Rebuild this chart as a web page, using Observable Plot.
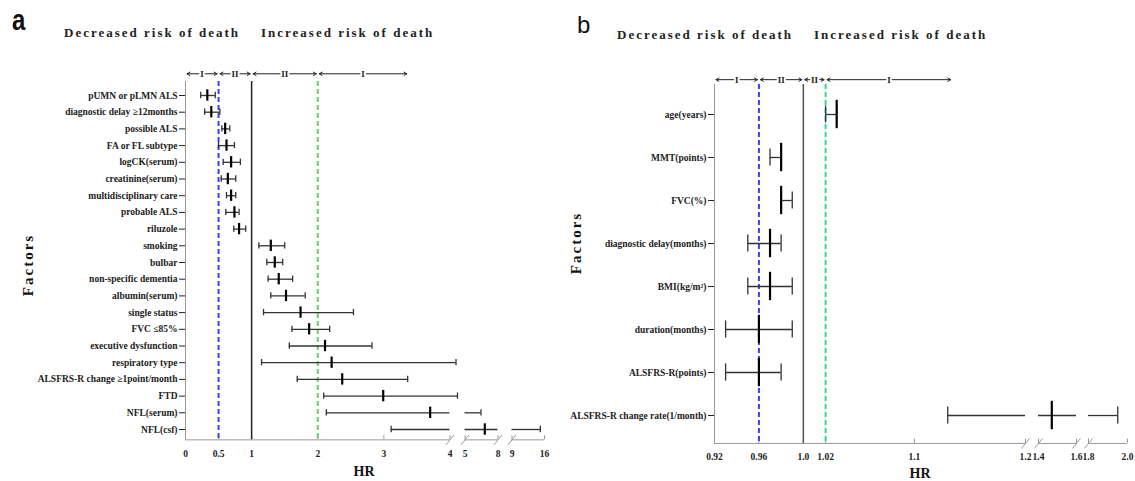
<!DOCTYPE html>
<html><head><meta charset="utf-8">
<script src="https://cdn.jsdelivr.net/npm/d3@7"></script>
<script src="https://cdn.jsdelivr.net/npm/@observablehq/plot@0.6"></script>
<style>
body{margin:0;background:#fff;width:1135px;height:481px;position:relative;overflow:hidden;font-family:"Liberation Serif",serif;color:#111;}
.abs{position:absolute;white-space:nowrap;line-height:1;}
.panel{position:absolute;top:0;}
.hdr{font-weight:bold;font-size:13px;letter-spacing:2px;color:#222;}
.hr{font-weight:bold;font-size:14px;transform:translate(-50%,-50%);}
.fac{font-weight:bold;font-size:15px;letter-spacing:2px;transform:translate(-50%,-50%) rotate(-90deg);}
</style></head><body>
<div class="abs" style="left:12px;top:5px;font-family:'Liberation Sans';font-weight:bold;font-size:30px;transform:scaleX(0.8);transform-origin:left top">a</div>
<div class="abs hdr" style="left:64px;top:26px">Decreased risk of death</div>
<div class="abs hdr" style="left:261px;top:26px">Increased risk of death</div>
<div class="abs" style="left:577px;top:13px;font-family:'Liberation Sans';font-size:24px">b</div>
<div class="abs hdr" style="left:617px;top:28px">Decreased risk of death</div>
<div class="abs hdr" style="left:814px;top:28px">Increased risk of death</div>
<div class="abs fac" style="left:28px;top:265px">Factors</div>
<div class="abs fac" style="left:576px;top:243px">Factors</div>
<div class="abs hr" style="left:364px;top:472px">HR</div>
<div class="abs hr" style="left:920px;top:474px">HR</div>
<div id="pa" class="panel" style="left:0px"></div>
<div id="pb" class="panel" style="left:565px"></div>
<script>
// ---------- Panel a data ----------
const factorsA = ["pUMN or pLMN ALS","diagnostic delay \u226512months","possible ALS","FA or FL subtype","logCK(serum)","creatinine(serum)","multidisciplinary care","probable ALS","riluzole","smoking","bulbar","non-specific dementia","albumin(serum)","single status","FVC \u226485%","executive dysfunction","respiratory type","ALSFRS-R change \u22651point/month","FTD","NFL(serum)","NFL(csf)"];
const hrA    = [0.33,0.39,0.60,0.62,0.69,0.64,0.69,0.74,0.81,1.29,1.35,1.41,1.52,1.74,1.87,2.11,2.21,2.37,2.99,3.70,6.8];
const lowerA = [0.23,0.29,0.55,0.50,0.57,0.54,0.62,0.61,0.73,1.11,1.23,1.25,1.29,1.18,1.61,1.57,1.15,1.69,2.09,2.13,3.11];
const upperA = [0.45,0.52,0.67,0.74,0.83,0.76,0.76,0.81,0.91,1.50,1.47,1.62,1.81,2.54,2.18,2.82,4.4,3.36,4.5,6.45,15.1];
const ticksA = [0,0.5,1,2,3,4,5,8,9,16];
const tickLabelsA = ["0","0.5","1","2","3","4","5","8","9","16"];
const piecesA = [[0,4],[5,8],[9,16]];
const regionStartA = [0,0.5,1,2];
const regionEndA   = [0.5,1,2,3.37];
const regionLabelA = ["I","II","II","I"];
const refLinesA = {low:0.5, one:1, high:2};

// ---------- Panel b data ----------
const factorsB = ["age(years)","MMT(points)","FVC(%)","diagnostic delay(months)","BMI(kg/m\u00b2)","duration(months)","ALSFRS-R(points)","ALSFRS-R change rate(1/month)"];
const hrB    = [1.03,0.98,0.98,0.97,0.97,0.96,0.96,1.47];
const lowerB = [1.02,0.97,0.98,0.95,0.95,0.93,0.93,1.13];
const upperB = [1.03,0.98,0.99,0.98,0.99,0.99,0.98,1.95];
const ticksB = [0.92,0.96,1.0,1.02,1.1,1.2,1.4,1.6,1.8,2.0];
const tickLabelsB = ["0.92","0.96","1.0","1.02","1.1","1.2","1.4","1.6","1.8","2.0"];
const piecesB = [[0.92,1.2],[1.4,1.6],[1.8,2.0]];
const regionStartB = [0.92,0.96,1.0,1.02];
const regionEndB   = [0.96,1.0,1.02,1.134];
const regionLabelB = ["I","II","II","I"];
const refLinesB = {low:0.96, one:1.0, high:1.02};

const slashSymbol = {draw(ctx, size){ const r = Math.sqrt(size/Math.PI); ctx.moveTo(-r*0.8, r); ctx.lineTo(r*0.8, -r); }};

function panel(o){
  const n = o.factors.length;
  const rows = o.factors.map((f,i)=>({i, f, hr:o.hr[i], lo:o.lower[i], hi:o.upper[i]}));
  const gaps = o.pieces.slice(1).map((p,k)=>[o.pieces[k][1], p[0]]);
  const segs = [];
  rows.forEach(r=>{
    let s = r.lo;
    for (const [g0,g1] of gaps){ if (r.lo < g0 && r.hi > g1){ segs.push({i:r.i,x1:s,x2:g0}); s = g1; } }
    segs.push({i:r.i,x1:s,x2:r.hi});
  });
  const caps = rows.flatMap(r=>[{i:r.i,x:r.lo},{i:r.i,x:r.hi}]);
  const slashes = [];
  o.pieces.forEach((p,k)=>{ if(k>0) slashes.push(p[0]); if(k<o.pieces.length-1) slashes.push(p[1]); });
  const regions = o.regStart.map((s,k)=>({s, e:o.regEnd[k], m:(s+o.regEnd[k])/2, label:o.regLabel[k]}));
  const top = o.yTop, bot = o.yBot, arrY = o.arrY;
  const xMin = o.pieces[0][0];
  return Plot.plot({
    width:o.width, height:481,
    marginLeft:o.ml, marginRight:o.mr, marginTop:o.mt, marginBottom:o.mb,
    style:{fontFamily:"Liberation Serif", fontWeight:"bold", fontSize:"9.5px", background:"transparent", overflow:"visible", color:"#222"},
    x:{type:"linear", domain:o.xDomain, range:o.xRange, ticks:o.ticks, tickFormat:d=>o.tickLabels[o.ticks.indexOf(d)], tickSize:0, tickPadding:10, label:null},
    y:{type:"linear", domain:[0,n-1], range:o.yRange, ticks:d3.range(n), tickFormat:i=>o.factors[i], tickSize:6, tickPadding:2, label:null},
    marks:[
      Plot.ruleX([xMin], {y1:top, y2:bot, stroke:"#999", strokeWidth:1}),
      Plot.ruleY(o.pieces, {y:bot, x1:d=>d[0], x2:d=>d[1], stroke:"#999", strokeWidth:1}),
      Plot.ruleX(o.ticks, {y1:bot, y2:bot - o.tickLen, stroke:"#999", strokeWidth:1}),
      Plot.dot(slashes, {x:d=>d, y:bot, symbol:slashSymbol, r:5, stroke:"#999", fill:"none", strokeWidth:1}),
      Plot.ruleX([o.ref.low], {y1:top, y2:bot, stroke:"#3340ff", strokeWidth:2, strokeDasharray:"5,3"}),
      Plot.ruleX([o.ref.high], {y1:top, y2:bot, stroke:o.green, strokeWidth:2, strokeDasharray:"5,3"}),
      Plot.ruleX([o.ref.one], {y1:top, y2:bot, stroke:o.oneColor, strokeWidth:1.5}),
      Plot.ruleY(segs, {y:"i", x1:"x1", x2:"x2", stroke:"#333", strokeWidth:1.3}),
      Plot.ruleX(caps, {x:"x", y1:d=>d.i-o.capH, y2:d=>d.i+o.capH, stroke:"#333", strokeWidth:1.3}),
      Plot.ruleX(rows, {x:"hr", y1:d=>d.i-o.cenH, y2:d=>d.i+o.cenH, stroke:"#000", strokeWidth:2.2}),
      Plot.arrow(regions, {x1:"m", x2:"e", y1:arrY, y2:arrY, headLength:5, insetEnd:1.5, stroke:"#222", strokeWidth:1}),
      Plot.arrow(regions, {x1:"m", x2:"s", y1:arrY, y2:arrY, headLength:5, insetEnd:1.5, stroke:"#222", strokeWidth:1}),
      Plot.text(regions, {x:"m", y:arrY, text:"label", fill:"#222", stroke:"white", strokeWidth:4, fontSize:9, fontWeight:"bold"})
    ]
  });
}

document.getElementById("pa").append(panel({
  factors:factorsA, hr:hrA, lower:lowerA, upper:upperA, ticks:ticksA, tickLabels:tickLabelsA, pieces:piecesA,
  regStart:regionStartA, regEnd:regionEndA, regLabel:regionLabelA, ref:refLinesA, green:"#5ed85e", oneColor:"#222",
  width:565, ml:185, mr:21, mt:81, mb:41.6,
  xDomain:[0,4,5,8,9,16], xRange:[185,449.5,464.5,497.5,511.5,544],
  yRange:[95,429], yTop:-0.84, yBot:20.62, arrY:-1.3, tickLen:0.25, capH:0.19, cenH:0.34
}));
document.getElementById("pb").append(panel({
  factors:factorsB, hr:hrB, lower:lowerB, upper:upperB, ticks:ticksB, tickLabels:tickLabelsB, pieces:piecesB,
  regStart:regionStartB, regEnd:regionEndB, regLabel:regionLabelB, ref:refLinesB, green:"#22e38c", oneColor:"#555",
  width:570, ml:149, mr:8, mt:84, mb:38,
  xDomain:[0.92,1.2,1.4,1.6,1.8,2.0], xRange:[149,460,473,511,523,562],
  yRange:[114,415], yTop:-0.7, yBot:7.65, arrY:-0.81, tickLen:0.1, capH:0.2, cenH:0.33
}));
</script>
</body></html>
